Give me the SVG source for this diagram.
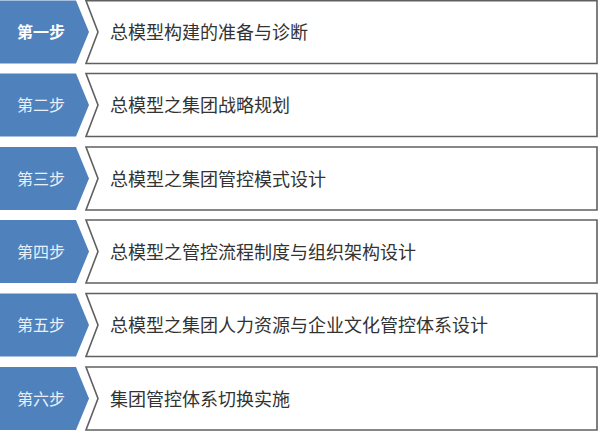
<svg xmlns="http://www.w3.org/2000/svg" width="600" height="433" viewBox="0 0 600 433">
<style>
.step{fill:#4f81bd;}
.box{fill:#fff;stroke:#606060;stroke-width:1.6;stroke-linejoin:miter;}
.lbl{font-family:"Noto Sans CJK SC","Noto Sans",sans-serif;font-size:16px;fill:#e9eff8;text-anchor:middle;}
.lbl1{font-weight:bold;fill:#fff;}
.txt{font-family:"Noto Sans CJK SC","Noto Sans",sans-serif;font-size:18px;fill:#333;}
</style>
<rect width="600" height="433" fill="#fff"/>
<g id="connectors"/>
<g id="step1">
<polygon class="step" points="0,0.5 76,0.5 89,32 76,63.5 0,63.5"/>
<polygon class="box" points="86,0.8 597,0.8 597,63.5 86,63.5 98,32"/>
<text class="lbl lbl1" x="41" y="38">第一步</text>
<text class="txt" x="110" y="39">总模型构建的准备与诊断</text>
</g>
<g id="step2">
<polygon class="step" points="0,73.5 76,73.5 89,105 76,136.5 0,136.5"/>
<polygon class="box" points="86,73.5 597,73.5 597,136.5 86,136.5 98,105"/>
<text class="lbl" x="41" y="111">第二步</text>
<text class="txt" x="110" y="112">总模型之集团战略规划</text>
</g>
<g id="step3">
<polygon class="step" points="0,147 76,147 89,178.5 76,210 0,210"/>
<polygon class="box" points="86,147 597,147 597,210 86,210 98,178.5"/>
<text class="lbl" x="41" y="184.5">第三步</text>
<text class="txt" x="110" y="185.5">总模型之集团管控模式设计</text>
</g>
<g id="step4">
<polygon class="step" points="0,220 76,220 89,251.5 76,283 0,283"/>
<polygon class="box" points="86,220 597,220 597,283 86,283 98,251.5"/>
<text class="lbl" x="41" y="257.5">第四步</text>
<text class="txt" x="110" y="258.5">总模型之管控流程制度与组织架构设计</text>
</g>
<g id="step5">
<polygon class="step" points="0,293.5 76,293.5 89,325 76,356.5 0,356.5"/>
<polygon class="box" points="86,293.5 597,293.5 597,356.5 86,356.5 98,325"/>
<text class="lbl" x="41" y="331">第五步</text>
<text class="txt" x="110" y="332">总模型之集团人力资源与企业文化管控体系设计</text>
</g>
<g id="step6">
<polygon class="step" points="0,367 76,367 89,398.5 76,430 0,430"/>
<polygon class="box" points="86,367 597,367 597,430 86,430 98,398.5"/>
<text class="lbl" x="41" y="404.5">第六步</text>
<text class="txt" x="110" y="405.5">集团管控体系切换实施</text>
</g>
</svg>
